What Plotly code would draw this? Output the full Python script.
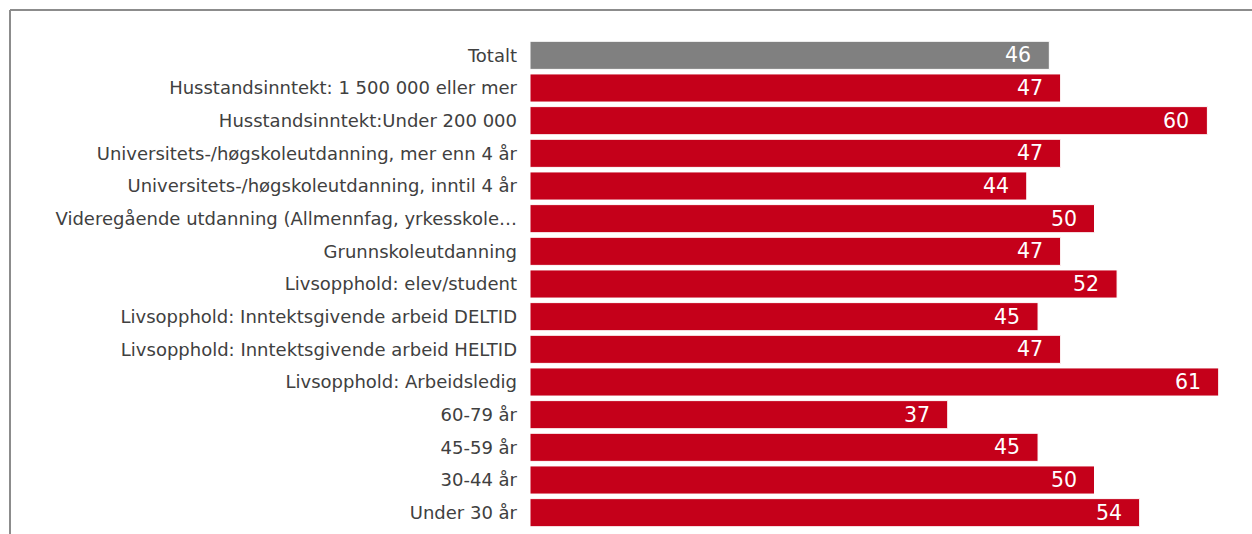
import plotly.graph_objects as go

categories = [
    "Totalt",
    "Husstandsinntekt: 1 500 000 eller mer",
    "Husstandsinntekt:Under 200 000",
    "Universitets-/høgskoleutdanning, mer enn 4 år",
    "Universitets-/høgskoleutdanning, inntil 4 år",
    "Videregående utdanning (Allmennfag, yrkesskole…",
    "Grunnskoleutdanning",
    "Livsopphold: elev/student",
    "Livsopphold: Inntektsgivende arbeid DELTID",
    "Livsopphold: Inntektsgivende arbeid HELTID",
    "Livsopphold: Arbeidsledig",
    "60-79 år",
    "45-59 år",
    "30-44 år",
    "Under 30 år",
]
values = [46, 47, 60, 47, 44, 50, 47, 52, 45, 47, 61, 37, 45, 50, 54]

RED = "#C5001A"
GREY = "#808080"
colors = [GREY] + [RED] * (len(values) - 1)

W, H = 1252, 534
ML, MR, MT, MB = 530, 0, 39, 5

fig = go.Figure(go.Bar(
    x=values,
    y=categories,
    orientation="h",
    marker=dict(color=colors, line=dict(color="white", width=1)),
    hoverinfo="x+y",
))

for c, v in zip(categories, values):
    fig.add_annotation(x=v, y=c, text=str(v), showarrow=False,
                       xanchor="right", xshift=-16,
                       font=dict(family="DejaVu Sans", size=20.5, color="white"))

# grey frame: top and left edges only
pw = W - ML - MR
ph = H - MT - MB
xl = (10 - ML) / pw
yt = (H - MB - 10) / ph
fig.add_shape(type="line", xref="paper", yref="paper", x0=xl, x1=1,
              y0=yt, y1=yt, line=dict(color="#8c8c8c", width=2))
fig.add_shape(type="line", xref="paper", yref="paper", x0=xl, x1=xl,
              y0=yt, y1=-MB / ph, line=dict(color="#8c8c8c", width=2))

fig.update_layout(
    width=W, height=H,
    margin=dict(l=ML, r=MR, t=MT, b=MB),
    plot_bgcolor="white", paper_bgcolor="white",
    bargap=0.14,
    showlegend=False,
    font=dict(family="DejaVu Sans", size=18, color="#404040"),
    xaxis=dict(range=[0, pw / 11.29], visible=False, fixedrange=True),
    yaxis=dict(autorange="reversed", showgrid=False, zeroline=False,
               ticks="", ticklabelstandoff=12, showline=False),
)

fig.write_html("out.html", config={"displayModeBar": False},
               post_script="document.body.style.margin='0';document.body.style.overflow='hidden';")
